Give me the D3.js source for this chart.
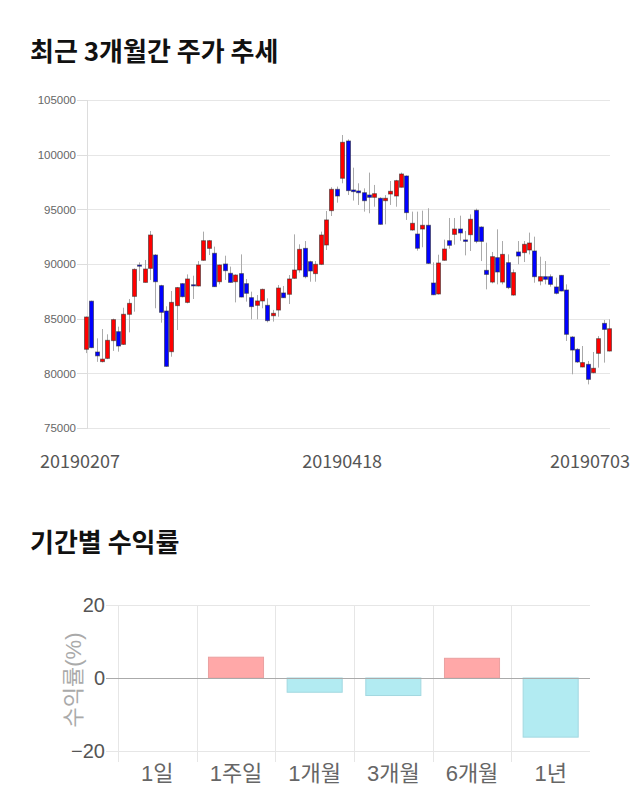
<!DOCTYPE html>
<html>
<head>
<meta charset="utf-8">
<script src="https://d3js.org/d3.v7.min.js"></script>
<style>
 body {margin: 0; background: #fff;}
 svg {display: block;}
 .ttl {font-family: "Noto Sans CJK KR", sans-serif; font-weight: bold; font-size: 26px; fill: #111;}
</style>
</head>
<body>
<svg id="chart" width="640" height="810"></svg>
<script>

// daily candles, 20190207 .. 20190703
var open  = [82200,86600,81950,81070,81370,82990,83810,82650,85400,87040,89900,88320,89600,90820,88020,85700,81980,86190,88200,86490,
             88100,87990,90340,91430,90980,88380,90000,89150,88380,89120,88200,86920,86220,86620,86220,85270,85790,87350,87230,88690,
             89450,91430,90210,89120,89970,91740,94880,96830,97840,101250,96770,96680,96520,96310,96100,96010,95790,96400,96220,97020,
             98050,93110,92740,93200,93540,88260,87260,90340,92130,92710,93200,92200,92680,94910,93380,89420,88350,90580,88350,90120,
             87160,91100,91040,91280,91190,88440,88840,88840,87900,88960,87620,83320,82190,80580,80820,80060,81830,84570,82040];
var high  = [85200,86650,83200,84050,83570,85000,84270,86000,86800,89600,90150,90370,93020,90900,88100,86130,87530,87900,88250,89050,
             88930,90270,92960,92200,91590,89950,90760,89760,89050,90880,88630,87470,87160,87750,86860,85800,88080,87990,88990,92710,
             91800,92100,90300,90270,92960,94850,97020,97080,101800,101400,98810,97380,96920,98360,97230,96100,96300,97590,97700,98360,
             98100,94790,94790,94880,95100,90150,90850,92230,94210,94210,94420,93020,94540,95060,93450,91950,91100,93170,92100,90880,
             89500,92100,92100,92870,92500,90670,90270,89050,88750,89000,88140,83400,82300,82500,81130,81950,83410,84880,84940];
var low   = [81850,82300,81050,81000,81300,82050,81980,82600,83750,85640,88450,88300,88540,85950,84630,80600,81520,83960,86950,86400,
             86800,87950,90300,90820,87900,88140,88540,88300,86490,86950,86560,84940,84940,85950,84660,84730,85180,86900,86340,88650,
             89210,88690,88380,88380,89900,91280,94390,95610,97380,96310,95800,95400,94790,94640,95240,93600,93630,95400,95240,97000,
             94030,93050,91220,91530,90000,87150,87200,90300,91400,91770,92130,90790,91190,91900,90270,87680,88230,88140,88140,87700,
             87100,89970,90180,90880,88290,88050,88140,87930,87220,87500,82960,79910,80950,80550,78990,80000,80520,80980,82000];
var close = [85150,82350,81600,81300,83020,84910,82500,85400,86400,89510,89800,89540,92650,88380,85580,80640,86490,87840,87010,88630,
             88000,89910,92130,92130,87930,89910,89390,88320,88990,86980,87320,86100,86620,87680,84820,85490,87800,86920,88630,89450,
             91340,88840,89360,89970,92650,94030,96830,96220,101130,96710,96620,96520,95790,96100,96430,93630,96010,96650,97620,98230,
             94700,93720,91440,93540,90060,87190,90090,91370,91710,93200,92840,92070,94090,92070,92070,89050,90670,89270,90880,87840,
             89210,90730,91800,91920,88840,88840,88600,88140,87320,87530,83570,82130,81040,80980,79450,80460,83170,84020,84080];

var priceTicks = [75000,80000,85000,90000,95000,100000,105000];
var dateLabels = ["20190207","20190418","20190703"];
var dateIdx = [0,48,98];

// period returns
var periods = ["1일","1주일","1개월","3개월","6개월","1년"];
var returns = [0, 5.7, -3.9, -4.8, 5.4, -16.2];
var retTicks = [-20,0,20];

var svg = d3.select('#chart');

svg.append('text').attr('class','ttl').attr('x',30).attr('y',61).text('최근 3개월간 주가 추세');
svg.append('text').attr('class','ttl').attr('x',30).attr('y',552).text('기간별 수익률');

// ---- candle chart ----
var left = 87, right = 610;
var x = d3.scaleLinear().domain([0, open.length-1]).range([86, 609]);
var y = d3.scaleLinear().domain([75000,105000]).range([428,100]);

var grid = svg.append('g').attr('transform','translate('+left+',0)')
  .call(d3.axisLeft(y).tickValues(priceTicks).tickSize(-(right-left)).tickFormat(''));
grid.select('.domain').remove();
grid.selectAll('line').attr('stroke','#e6e6e6').attr('shape-rendering','crispEdges');

var ax = svg.append('g').attr('transform','translate('+left+',0)')
  .call(d3.axisLeft(y).tickValues(priceTicks).tickSize(10).tickPadding(1).tickFormat(d3.format('d')));
ax.select('.domain').attr('stroke','#ddd').attr('shape-rendering','crispEdges');
ax.selectAll('line').attr('stroke','#ddd').attr('shape-rendering','crispEdges');
ax.selectAll('text').attr('fill','#666').style('font-family','"Liberation Sans", Arial, sans-serif').style('font-size','11.5px');

var idx = d3.range(open.length);
var cg = svg.append('g');
cg.selectAll('line.wick').data(idx).enter().append('line')
  .attr('class','wick')
  .attr('x1', function(i){ return Math.round(x(i))+0.5; })
  .attr('x2', function(i){ return Math.round(x(i))+0.5; })
  .attr('y1', function(i){ return y(high[i]); })
  .attr('y2', function(i){ return y(low[i]); })
  .attr('stroke','#aaa').attr('stroke-width',1);
cg.selectAll('rect').data(idx).enter().append('rect')
  .attr('x', function(i){ return Math.round(x(i))-1.5; })
  .attr('width', 4)
  .attr('y', function(i){ return y(Math.max(open[i],close[i])); })
  .attr('height', function(i){ return Math.max(1, Math.abs(y(open[i])-y(close[i]))); })
  .attr('fill', function(i){ return close[i] >= open[i] ? '#ff0000' : '#0000ff'; })
  .attr('stroke','rgba(40,40,40,0.55)').attr('stroke-width',1);

svg.append('g').selectAll('text').data(dateLabels).enter().append('text')
  .attr('x', function(d,i){ return i==0 ? 40 : (i==dateLabels.length-1 ? 630 : x(dateIdx[i])); })
  .attr('y', 468)
  .attr('text-anchor', function(d,i){ return i==0 ? 'start' : (i==dateLabels.length-1 ? 'end' : 'middle'); })
  .attr('fill','#555')
  .style('font-family','"Noto Sans CJK KR", sans-serif').style('font-size','18px')
  .text(function(d){ return d; });

// ---- returns bar chart ----
var xb = d3.scaleBand().domain(periods).range([118,590]);
var yb = d3.scaleLinear().domain([-20,20]).range([751,605]);
var bw = xb.bandwidth();

var g2 = svg.append('g');
g2.selectAll('line.v').data(periods).enter().append('line')
  .attr('x1', function(d){ return Math.round(xb(d))+0.5; })
  .attr('x2', function(d){ return Math.round(xb(d))+0.5; })
  .attr('y1', yb(20)).attr('y2', yb(-20)+11)
  .attr('stroke','#e6e6e6');

var ax2 = svg.append('g').attr('transform','translate(118,0)')
  .call(d3.axisLeft(yb).tickValues(retTicks).tickSize(12).tickPadding(1));
ax2.select('.domain').remove();
ax2.selectAll('line').attr('stroke','#e6e6e6').attr('shape-rendering','crispEdges');
ax2.selectAll('text').attr('fill','#555').style('font-family','"Liberation Sans", Arial, sans-serif').style('font-size','20px');

svg.append('g').selectAll('line').data(retTicks).enter().append('line')
  .attr('x1',118).attr('x2',590)
  .attr('y1', function(d){ return Math.round(yb(d))+0.5; })
  .attr('y2', function(d){ return Math.round(yb(d))+0.5; })
  .attr('stroke', function(d){ return d==0 ? '#aaa' : '#e6e6e6'; });
ax2.selectAll('.tick').filter(function(d){ return d==0; }).select('line').attr('stroke','#aaa');

g2.selectAll('rect').data(periods.filter(function(d,i){ return returns[i] != 0; })).enter().append('rect')
  .attr('x', function(d){ return xb(d)+bw*0.15; })
  .attr('width', bw*0.7)
  .attr('y', function(d){ var v = returns[periods.indexOf(d)]; return yb(Math.max(0,v)); })
  .attr('height', function(d){ var v = returns[periods.indexOf(d)]; return Math.abs(yb(v)-yb(0)); })
  .attr('fill', function(d){ return returns[periods.indexOf(d)] > 0 ? '#ffa8a8' : '#b2ebf2'; })
  .attr('stroke', function(d){ return returns[periods.indexOf(d)] > 0 ? '#eaa0a0' : '#a2d8e0'; })
  .attr('stroke-width',1);

svg.append('g').selectAll('text').data(periods).enter().append('text')
  .attr('x', function(d){ return xb(d)+bw/2; })
  .attr('y', 781)
  .attr('text-anchor','middle')
  .attr('fill','#666')
  .style('font-family','"Liberation Sans", "Noto Sans CJK KR", sans-serif').style('font-size','22px')
  .text(function(d){ return d; });

svg.append('text')
  .attr('transform','translate(81,680) rotate(-90)')
  .attr('text-anchor','middle')
  .attr('fill','#aaa')
  .style('font-family','"Liberation Sans", "Noto Sans CJK KR", sans-serif').style('font-size','22px')
  .text('수익률(%)');

</script>
</body>
</html>
